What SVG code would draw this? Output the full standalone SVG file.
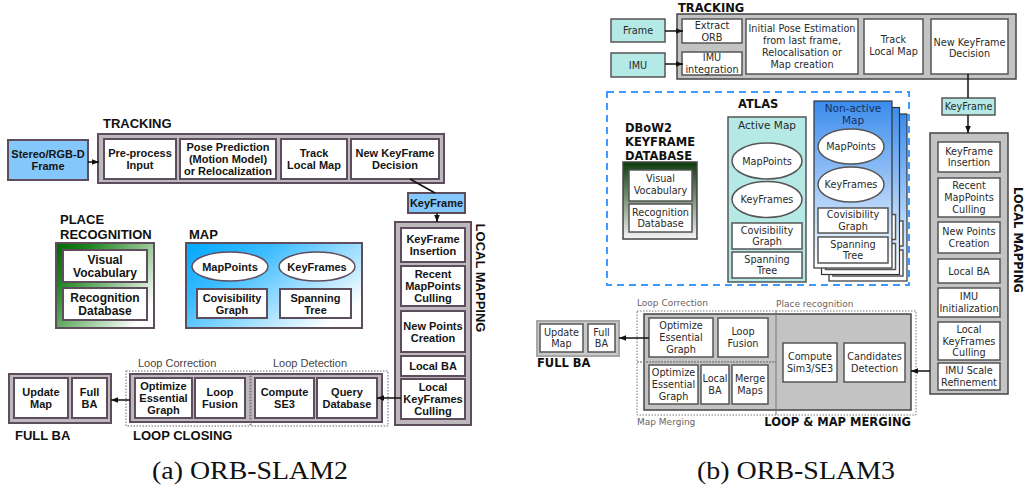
<svg xmlns="http://www.w3.org/2000/svg" width="1027" height="492" viewBox="0 0 1027 492">
<style>
.bg{fill:#ffffff}
.lc{fill:#bcb8bc;stroke:#5d4d5d;stroke-width:2}
.lb{fill:#ffffff;stroke:#5d4d5d;stroke-width:2}
.le{fill:#ffffff;stroke:#5d4d5d;stroke-width:1.5}
.lblue{fill:#84c7fb;stroke:#5d4d5d;stroke-width:2}
.lt{font-family:"Liberation Sans",Arial,sans-serif;font-weight:bold;font-size:11px;fill:#141414;text-anchor:middle}
.lt12{font-family:"Liberation Sans",Arial,sans-serif;font-weight:bold;font-size:12px;fill:#141414;text-anchor:middle}
.lh{font-family:"Liberation Sans",Arial,sans-serif;font-weight:bold;font-size:13px;fill:#111}
.ls{font-family:"Liberation Sans",Arial,sans-serif;font-size:11px;fill:#444}
.ldot{fill:none;stroke:#666;stroke-width:1;stroke-dasharray:1.5 1.5}
.rc{fill:#c3c3c3;stroke:#444;stroke-width:1.5}
.rb{fill:#ffffff;stroke:#555;stroke-width:1.5}
.rcy{fill:#b5e9e6;stroke:#555;stroke-width:1.5}
.rt{font-family:"DejaVu Sans",Verdana,sans-serif;font-size:9.7px;fill:#2a2a2a;text-anchor:middle}
.rh{font-family:"DejaVu Sans",Verdana,sans-serif;font-weight:bold;font-size:11.5px;fill:#111}
.rs{font-family:"DejaVu Sans",Verdana,sans-serif;font-size:9px;fill:#6e5f5f}
.rdot{fill:none;stroke:#777;stroke-width:1;stroke-dasharray:1.5 1.5}
.na{stroke:#333;stroke-width:1.2}
.cap{font-family:"Liberation Serif","Times New Roman",serif;font-size:25px;fill:#111}
.conn{stroke:#111;stroke-width:1.5;fill:none}
</style>
<defs>
<marker id="ah" viewBox="0 0 10 10" refX="10" refY="5" markerWidth="7" markerHeight="7" orient="auto" markerUnits="userSpaceOnUse">
<path d="M0,1 L10,5 L0,9 z" fill="#111"/>
</marker>
<linearGradient id="gGreen" x1="0" y1="0" x2="1" y2="0.7">
<stop offset="0" stop-color="#006800"/>
<stop offset="0.25" stop-color="#1f861f"/>
<stop offset="1" stop-color="#ffffff"/>
</linearGradient>
<linearGradient id="gBlue" x1="0" y1="0" x2="1" y2="0.7">
<stop offset="0" stop-color="#00a8ff"/>
<stop offset="0.35" stop-color="#3dbcff"/>
<stop offset="1" stop-color="#ffffff"/>
</linearGradient>
<linearGradient id="gDbow" x1="0" y1="0" x2="0" y2="1">
<stop offset="0" stop-color="#0b3b0b"/>
<stop offset="1" stop-color="#f4f4f4"/>
</linearGradient>
<linearGradient id="gNA" x1="0" y1="0" x2="0" y2="1">
<stop offset="0" stop-color="#3a8ced"/>
<stop offset="1" stop-color="#ffffff"/>
</linearGradient>
</defs>
<rect class="bg" x="0" y="0" width="1027" height="492"/>

<!-- ===================== (a) ORB-SLAM2 ===================== -->
<g id="a-stereo-frame">
<rect class="lblue" x="8" y="140" width="80" height="40"/>
<text class="lt"><tspan x="48" y="158">Stereo/RGB-D</tspan><tspan x="48" y="170">Frame</tspan></text>
</g>
<g id="a-tracking">
<text class="lh" x="103" y="128">TRACKING</text>
<rect class="lc" x="98" y="134" width="346" height="49"/>
<rect class="lb" x="104" y="139" width="72" height="40"/>
<text class="lt"><tspan x="140" y="157">Pre-process</tspan><tspan x="140" y="169">Input</tspan></text>
<rect class="lb" x="180" y="139" width="96" height="40"/>
<text class="lt"><tspan x="228" y="151">Pose Prediction</tspan><tspan x="228" y="163">(Motion Model)</tspan><tspan x="228" y="175">or Relocalization</tspan></text>
<rect class="lb" x="281" y="139" width="66" height="40"/>
<text class="lt"><tspan x="314" y="157">Track</tspan><tspan x="314" y="169">Local Map</tspan></text>
<rect class="lb" x="351" y="139" width="88" height="40"/>
<text class="lt"><tspan x="395" y="157">New KeyFrame</tspan><tspan x="395" y="169">Decision</tspan></text>
</g>
<g id="a-keyframe">
<rect class="lblue" x="408" y="193" width="57" height="20"/>
<text class="lt" x="436.5" y="207">KeyFrame</text>
</g>
<g id="a-local-mapping">
<rect class="lc" x="395" y="222" width="76" height="203"/>
<text class="lh" transform="translate(475.5,278) rotate(90)" text-anchor="middle" x="0" y="0">LOCAL MAPPING</text>
<rect class="lb" x="401" y="228" width="64" height="34"/>
<text class="lt"><tspan x="433" y="243">KeyFrame</tspan><tspan x="433" y="255">Insertion</tspan></text>
<rect class="lb" x="401" y="266" width="64" height="40"/>
<text class="lt"><tspan x="433" y="278">Recent</tspan><tspan x="433" y="290">MapPoints</tspan><tspan x="433" y="302">Culling</tspan></text>
<rect class="lb" x="401" y="311" width="64" height="41"/>
<text class="lt"><tspan x="433" y="329.5">New Points</tspan><tspan x="433" y="341.5">Creation</tspan></text>
<rect class="lb" x="401" y="356" width="64" height="20"/>
<text class="lt" x="433" y="370">Local BA</text>
<rect class="lb" x="401" y="379" width="64" height="40"/>
<text class="lt"><tspan x="433" y="391">Local</tspan><tspan x="433" y="403">KeyFrames</tspan><tspan x="433" y="415">Culling</tspan></text>
</g>
<g id="a-place-recognition">
<text class="lh"><tspan x="60" y="224">PLACE</tspan><tspan x="60" y="239">RECOGNITION</tspan></text>
<rect x="56" y="243" width="98" height="85" fill="url(#gGreen)" stroke="#5d4d5d" stroke-width="2"/>
<rect class="lb" x="63" y="250" width="84" height="32"/>
<text class="lt12"><tspan x="105" y="263.5">Visual</tspan><tspan x="105" y="276.5">Vocabulary</tspan></text>
<rect class="lb" x="63" y="288" width="84" height="32"/>
<text class="lt12"><tspan x="105" y="301.5">Recognition</tspan><tspan x="105" y="314.5">Database</tspan></text>
</g>
<g id="a-map">
<text class="lh" x="189" y="239">MAP</text>
<rect x="186" y="243" width="176" height="85" fill="url(#gBlue)" stroke="#5d4d5d" stroke-width="2"/>
<ellipse class="le" cx="230" cy="266.5" rx="38" ry="14.5"/>
<text class="lt" x="230" y="270.5">MapPoints</text>
<ellipse class="le" cx="317" cy="266.5" rx="38" ry="14.5"/>
<text class="lt" x="317" y="270.5">KeyFrames</text>
<rect class="lb" x="197" y="289" width="70" height="29"/>
<text class="lt"><tspan x="232" y="301.5">Covisibility</tspan><tspan x="232" y="313.5">Graph</tspan></text>
<rect class="lb" x="280" y="289" width="71" height="29"/>
<text class="lt"><tspan x="315.5" y="301.5">Spanning</tspan><tspan x="315.5" y="313.5">Tree</tspan></text>
</g>
<g id="a-full-ba">
<rect class="lc" x="9" y="374" width="102" height="49"/>
<rect class="lb" x="14" y="378" width="54" height="40"/>
<text class="lt"><tspan x="41" y="396">Update</tspan><tspan x="41" y="408">Map</tspan></text>
<rect class="lb" x="72" y="378" width="35" height="40"/>
<text class="lt"><tspan x="89.5" y="396">Full</tspan><tspan x="89.5" y="408">BA</tspan></text>
<text class="lh" x="15" y="440">FULL BA</text>
</g>
<g id="a-loop-closing">
<rect class="lc" x="130" y="374" width="252" height="48"/>
<rect class="ldot" x="126" y="371" width="124" height="55"/>
<rect class="ldot" x="251" y="371" width="137" height="55"/>
<text class="ls" x="138" y="367">Loop Correction</text>
<text class="ls" x="273" y="367">Loop Detection</text>
<rect class="lb" x="135" y="378" width="57" height="40"/>
<text class="lt"><tspan x="163.5" y="390">Optimize</tspan><tspan x="163.5" y="402">Essential</tspan><tspan x="163.5" y="414">Graph</tspan></text>
<rect class="lb" x="195" y="378" width="50" height="40"/>
<text class="lt"><tspan x="220" y="396">Loop</tspan><tspan x="220" y="408">Fusion</tspan></text>
<rect class="lb" x="255" y="378" width="59" height="40"/>
<text class="lt"><tspan x="284.5" y="396">Compute</tspan><tspan x="284.5" y="408">SE3</tspan></text>
<rect class="lb" x="317" y="378" width="60" height="40"/>
<text class="lt"><tspan x="347" y="396">Query</tspan><tspan x="347" y="408">Database</tspan></text>
<text class="lh" x="133" y="440">LOOP CLOSING</text>
</g>

<!-- ===================== (b) ORB-SLAM3 ===================== -->
<g id="b-frame">
<rect class="rcy" x="611" y="19" width="54" height="23"/>
<text class="rt" x="638" y="34">Frame</text>
</g>
<g id="b-imu">
<rect class="rcy" x="611" y="53" width="54" height="24"/>
<text class="rt" x="638" y="68.5">IMU</text>
</g>
<g id="b-tracking">
<text class="rh" x="678" y="12">TRACKING</text>
<rect class="rc" x="677" y="14" width="339" height="65"/>
<rect class="rb" x="682" y="19" width="60" height="24"/>
<text class="rt"><tspan x="712" y="28.5">Extract</tspan><tspan x="712" y="40.5">ORB</tspan></text>
<rect class="rb" x="682" y="52" width="60" height="23"/>
<text class="rt"><tspan x="712" y="61">IMU</tspan><tspan x="712" y="73">integration</tspan></text>
<rect class="rb" x="746" y="19" width="112" height="55"/>
<text class="rt"><tspan x="802" y="32.3">Initial Pose Estimation</tspan><tspan x="802" y="44.1">from last frame,</tspan><tspan x="802" y="55.9">Relocalisation or</tspan><tspan x="802" y="67.7">Map creation</tspan></text>
<rect class="rb" x="864" y="19" width="59" height="55"/>
<text class="rt"><tspan x="893.5" y="43">Track</tspan><tspan x="893.5" y="55">Local Map</tspan></text>
<rect class="rb" x="931" y="19" width="77" height="55"/>
<text class="rt"><tspan x="969.5" y="45.5">New KeyFrame</tspan><tspan x="969.5" y="57">Decision</tspan></text>
</g>
<g id="b-keyframe">
<rect class="rcy" x="942" y="98" width="53" height="17"/>
<text class="rt" x="968.5" y="110">KeyFrame</text>
</g>
<g id="b-local-mapping">
<rect class="rc" x="930" y="133" width="78" height="261"/>
<text class="rh" transform="translate(1013.5,240) rotate(90)" text-anchor="middle" x="0" y="0">LOCAL MAPPING</text>
<rect class="rb" x="938" y="142" width="62" height="30"/>
<text class="rt"><tspan x="969" y="154.6">KeyFrame</tspan><tspan x="969" y="166.4">Insertion</tspan></text>
<rect class="rb" x="938" y="178" width="62" height="39"/>
<text class="rt"><tspan x="969" y="189.2">Recent</tspan><tspan x="969" y="201">MapPoints</tspan><tspan x="969" y="212.8">Culling</tspan></text>
<rect class="rb" x="938" y="222" width="62" height="31"/>
<text class="rt"><tspan x="969" y="235.1">New Points</tspan><tspan x="969" y="246.9">Creation</tspan></text>
<rect class="rb" x="938" y="259" width="62" height="24"/>
<text class="rt" x="969" y="274.5">Local BA</text>
<rect class="rb" x="938" y="288" width="62" height="29"/>
<text class="rt"><tspan x="969" y="300.1">IMU</tspan><tspan x="969" y="311.9">Initialization</tspan></text>
<rect class="rb" x="938" y="322" width="62" height="38"/>
<text class="rt"><tspan x="969" y="332.7">Local</tspan><tspan x="969" y="344.5">KeyFrames</tspan><tspan x="969" y="356.3">Culling</tspan></text>
<rect class="rb" x="938" y="363" width="62" height="27"/>
<text class="rt"><tspan x="969" y="374.1">IMU Scale</tspan><tspan x="969" y="385.9">Refinement</tspan></text>
</g>
<g id="b-atlas">
<rect x="607" y="92" width="302" height="193" fill="none" stroke="#3d9bff" stroke-width="2" stroke-dasharray="7 5"/>
<text class="rh" x="738" y="108">ATLAS</text>
</g>
<g id="b-dbow2">
<text class="rh"><tspan x="625" y="132">DBoW2</tspan><tspan x="625" y="146">KEYFRAME</tspan><tspan x="625" y="160">DATABASE</tspan></text>
<rect x="623" y="162" width="74" height="77" fill="url(#gDbow)" stroke="#444" stroke-width="1.5"/>
<rect class="rb" x="629" y="170" width="63" height="31"/>
<text class="rt"><tspan x="660.5" y="182">Visual</tspan><tspan x="660.5" y="194">Vocabulary</tspan></text>
<rect class="rb" x="629" y="204" width="63" height="28"/>
<text class="rt"><tspan x="660.5" y="215.6">Recognition</tspan><tspan x="660.5" y="227.4">Database</tspan></text>
</g>
<g id="b-active-map">
<rect class="rcy" x="728" y="117" width="78" height="165"/>
<text class="rt" x="767" y="129" style="font-size:10.5px">Active Map</text>
<ellipse class="rb" cx="767" cy="161" rx="35" ry="18"/>
<text class="rt" x="767" y="164.5">MapPoints</text>
<ellipse class="rb" cx="767" cy="199.5" rx="35" ry="18"/>
<text class="rt" x="767" y="203">KeyFrames</text>
<rect class="rb" x="732" y="223" width="70" height="26"/>
<text class="rt"><tspan x="767" y="233.6">Covisibility</tspan><tspan x="767" y="245.4">Graph</tspan></text>
<rect class="rb" x="732" y="252" width="70" height="26"/>
<text class="rt"><tspan x="767" y="262.6">Spanning</tspan><tspan x="767" y="274.4">Tree</tspan></text>
</g>
<g id="b-non-active-map">
<rect class="na" x="829" y="114" width="78" height="167" fill="url(#gNA)"/>
<rect class="rb" x="833" y="221" width="70" height="25"/>
<rect class="rb" x="833" y="250" width="70" height="26"/>
<rect class="na" x="821.5" y="107.5" width="78" height="167" fill="url(#gNA)"/>
<rect class="rb" x="825.5" y="214.5" width="70" height="25"/>
<rect class="rb" x="825.5" y="243.5" width="70" height="26"/>
<rect class="na" x="814" y="101" width="78" height="167" fill="url(#gNA)"/>
<text class="rt" style="font-size:10.5px;fill:#17305e"><tspan x="853" y="112">Non-active</tspan><tspan x="853" y="123.5">Map</tspan></text>
<ellipse class="rb" cx="851" cy="146.5" rx="33" ry="17.5"/>
<text class="rt" x="851" y="150">MapPoints</text>
<ellipse class="rb" cx="851" cy="184.5" rx="33" ry="17.5"/>
<text class="rt" x="851" y="188">KeyFrames</text>
<rect class="rb" x="818" y="208" width="70" height="25"/>
<text class="rt"><tspan x="853" y="218.1">Covisibility</tspan><tspan x="853" y="229.9">Graph</tspan></text>
<rect class="rb" x="818" y="237" width="70" height="26"/>
<text class="rt"><tspan x="853" y="247.6">Spanning</tspan><tspan x="853" y="259.4">Tree</tspan></text>
</g>
<g id="b-full-ba">
<rect x="537" y="321" width="82" height="35" fill="#c9c9c9" stroke="#a6a6a6" stroke-width="2"/>
<rect class="rb" x="540" y="324" width="43" height="28"/>
<text class="rt"><tspan x="561.5" y="335.6">Update</tspan><tspan x="561.5" y="347.4">Map</tspan></text>
<rect class="rb" x="588" y="324" width="27" height="28"/>
<text class="rt"><tspan x="601.5" y="335.6">Full</tspan><tspan x="601.5" y="347.4">BA</tspan></text>
<text class="rh" x="537" y="367">FULL BA</text>
</g>
<g id="b-loop-map-merging">
<rect class="rc" x="644" y="314" width="267" height="96"/>
<rect class="rdot" x="637" y="311" width="139" height="51"/>
<rect class="rdot" x="637" y="362" width="139" height="53"/>
<rect class="rdot" x="776" y="311" width="140" height="104"/>
<text class="rs" x="637" y="306">Loop Correction</text>
<text class="rs" x="776" y="307">Place recognition</text>
<text class="rs" x="637" y="425">Map Merging</text>
<rect class="rb" x="649" y="318" width="64" height="39"/>
<text class="rt"><tspan x="681" y="329.2">Optimize</tspan><tspan x="681" y="341">Essential</tspan><tspan x="681" y="352.8">Graph</tspan></text>
<rect class="rb" x="718" y="318" width="50" height="39"/>
<text class="rt"><tspan x="743" y="335.1">Loop</tspan><tspan x="743" y="346.9">Fusion</tspan></text>
<rect class="rb" x="649" y="365" width="49" height="39"/>
<text class="rt"><tspan x="673.5" y="376.2">Optimize</tspan><tspan x="673.5" y="388">Essential</tspan><tspan x="673.5" y="399.8">Graph</tspan></text>
<rect class="rb" x="701" y="365" width="28" height="39"/>
<text class="rt"><tspan x="715" y="382.1">Local</tspan><tspan x="715" y="393.9">BA</tspan></text>
<rect class="rb" x="732" y="365" width="36" height="39"/>
<text class="rt"><tspan x="750" y="382.1">Merge</tspan><tspan x="750" y="393.9">Maps</tspan></text>
<rect class="rb" x="783" y="343" width="54" height="39"/>
<text class="rt"><tspan x="810" y="360.1">Compute</tspan><tspan x="810" y="371.9">Sim3/SE3</tspan></text>
<rect class="rb" x="844" y="343" width="61" height="39"/>
<text class="rt"><tspan x="874.5" y="360.1">Candidates</tspan><tspan x="874.5" y="371.9">Detection</tspan></text>
<text class="rh" x="911" y="426" text-anchor="end">LOOP &amp; MAP MERGING</text>
</g>

<!-- ===================== connectors ===================== -->
<g id="connectors">
<line class="conn" x1="88" y1="162" x2="99" y2="162" marker-end="url(#ah)"/>
<line class="conn" x1="410" y1="179" x2="435" y2="193"/>
<line class="conn" x1="437" y1="213" x2="437" y2="222" marker-end="url(#ah)"/>
<line class="conn" x1="401" y1="398" x2="377" y2="398" marker-end="url(#ah)"/>
<line class="conn" x1="130" y1="400" x2="111" y2="400" marker-end="url(#ah)"/>
<line class="conn" x1="665" y1="31" x2="683" y2="31" marker-end="url(#ah)"/>
<line class="conn" x1="665" y1="64" x2="683" y2="64" marker-end="url(#ah)"/>
<line class="conn" x1="968" y1="74" x2="968" y2="98"/>
<line class="conn" x1="968" y1="115" x2="968" y2="133" marker-end="url(#ah)"/>
<line class="conn" x1="930" y1="371" x2="911" y2="371" marker-end="url(#ah)"/>
<line class="conn" x1="649" y1="338" x2="619" y2="338" marker-end="url(#ah)"/>
</g>

<g id="captions">
<text class="cap" x="152" y="479" textLength="196" lengthAdjust="spacingAndGlyphs">(a) ORB-SLAM2</text>
<text class="cap" x="697" y="479" textLength="198" lengthAdjust="spacingAndGlyphs">(b) ORB-SLAM3</text>
</g>
</svg>
